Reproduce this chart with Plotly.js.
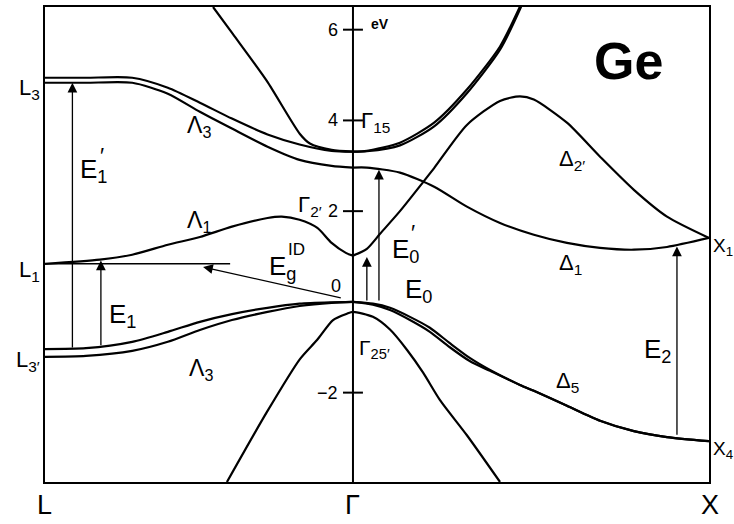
<!DOCTYPE html>
<html>
<head>
<meta charset="utf-8">
<script src="https://cdn.plot.ly/plotly-3.0.1.min.js"></script>
<style>
body { margin: 0; background: #fff; }
#plot { width: 734px; height: 524px; }
</style>
</head>
<body>
<div id="plot"></div>
<script>
// Ge band structure. k: L = -0.865, Gamma = 0, X = 1 ; energies in eV

// L -> Gamma (Lambda direction)
var kLambda = [-0.865, -0.75, -0.62, -0.52, -0.43, -0.34, -0.24, -0.15, -0.06, 0];
var lambda3cA = [4.94, 4.94, 4.94, 4.72, 4.39, 4.04, 3.69, 3.47, 3.33, 3.31];
var lambda3cB = [4.83, 4.83, 4.83, 4.59, 4.19, 3.82, 3.42, 3.13, 3.00, 2.96];
var lambda3vA = [-1.04, -1.02, -0.88, -0.66, -0.44, -0.27, -0.13, -0.04, -0.01, 0];
var lambda3vB = [-1.21, -1.19, -1.08, -0.88, -0.62, -0.40, -0.22, -0.09, -0.02, 0];

var kLambda1 = [-0.865, -0.711, -0.62, -0.52, -0.43, -0.34, -0.24, -0.20, -0.15, -0.10, -0.06, -0.02, 0];
var lambda1c = [0.84, 0.93, 1.04, 1.26, 1.43, 1.66, 1.85, 1.88, 1.81, 1.63, 1.30, 1.08, 1.02];

var kLambdaUp = [-0.393, -0.337, -0.242, -0.149, -0.121, -0.06, 0];
var lambda1Up = [6.50, 5.90, 4.87, 3.70, 3.49, 3.35, 3.31];

// Gamma -> X (Delta direction)
var kDelta = [0, 0.039, 0.132, 0.228, 0.320, 0.413, 0.508, 0.601, 0.694, 0.789, 0.882, 1.0];
var delta1 = [2.96, 2.96, 2.85, 2.54, 2.10, 1.74, 1.48, 1.30, 1.19, 1.15, 1.21, 1.41];

var kDelta2 = [0, 0.039, 0.076, 0.132, 0.197, 0.228, 0.320, 0.413, 0.469, 0.508, 0.601, 0.694, 0.789, 0.882, 1.0];
var delta2p = [1.02, 1.17, 1.50, 2.00, 2.64, 2.95, 3.90, 4.43, 4.53, 4.46, 3.95, 3.20, 2.47, 1.88, 1.41];

var kDelta5c = [0, 0.039, 0.132, 0.228, 0.320, 0.413, 0.469, 0.49];
var delta5cA = [3.31, 3.33, 3.51, 3.95, 4.68, 5.63, 6.51, 6.90];
var delta5cB = [3.31, 3.32, 3.45, 3.87, 4.60, 5.56, 6.45, 6.85];

var kDelta5v = [0, 0.056, 0.104, 0.160, 0.216, 0.272, 0.329, 0.385, 0.469, 0.508, 0.601, 0.694, 0.789, 0.882, 1.0];
var delta5vA = [0, -0.04, -0.13, -0.33, -0.57, -0.91, -1.24, -1.50, -1.83, -1.96, -2.29, -2.62, -2.85, -2.98, -3.07];
var delta5vB = [0, -0.06, -0.18, -0.40, -0.66, -1.00, -1.31, -1.52, -1.83, -1.96, -2.29, -2.62, -2.85, -2.98, -3.07];

// split-off band, both sides of Gamma
var kSO = [-0.354, -0.242, -0.149, -0.101, -0.056, -0.017, 0, 0.056, 0.104, 0.152, 0.197, 0.244, 0.320, 0.413];
var splitOff = [-3.97, -2.43, -1.26, -0.84, -0.40, -0.26, -0.22, -0.33, -0.61, -1.06, -1.56, -2.16, -2.94, -3.97];

// optical transitions E1', E1, E0, E0', E2
var transK = [-0.788, -0.708, 0.039, 0.073, 0.910];
var transFrom = [-1.04, -0.99, 0.0, 0.0, -2.96];
var transTo = [4.83, 0.91, 0.99, 2.91, 1.22];

// indirect gap arrow (from Gamma to L1)
var gapTail = [-0.03, 0.08];
var gapTip = [-0.421, 0.77];

var tickE = [-2, 2, 4, 6];
var tickText = ["\u22122", "2", "4", "6"];

var xRange = [-0.865, 1.0];
var yRange = [-3.97, 6.5];

function band(k, e) {
  return {
    x: k, y: e, mode: "lines", hoverinfo: "skip", showlegend: false,
    line: { color: "#000", width: 2.2, shape: "spline", smoothing: 0.7 }
  };
}

var data = [
  band(kLambda, lambda3cA), band(kLambda, lambda3cB),
  band(kLambda, lambda3vA), band(kLambda, lambda3vB),
  band(kLambda1, lambda1c), band(kLambdaUp, lambda1Up),
  band(kDelta, delta1), band(kDelta2, delta2p),
  band(kDelta5c, delta5cA), band(kDelta5c, delta5cB),
  band(kDelta5v, delta5vA), band(kDelta5v, delta5vB),
  band(kSO, splitOff)
];

var fontName = "Liberation Sans, Arial, sans-serif";

function lab(text, x, y, size, xanchor) {
  return {
    text: text, x: x, y: y, xref: "x", yref: "y", showarrow: false,
    xanchor: xanchor || "left", yanchor: "middle",
    font: { family: fontName, size: size, color: "#000" }
  };
}

// labels outside the frame: given in data units, placed on paper
function labOut(text, x, y, size, xanchor) {
  var a = lab(text, (x - xRange[0]) / (xRange[1] - xRange[0]),
    (y - yRange[0]) / (yRange[1] - yRange[0]), size, xanchor);
  a.xref = "paper";
  a.yref = "paper";
  return a;
}

var annotations = [
  labOut("L<sub>3</sub>", -0.873, 4.70, 22, "right"),
  labOut("L<sub>1</sub>", -0.873, 0.68, 22, "right"),
  labOut("L<sub>3\u2032</sub>", -0.873, -1.30, 22, "right"),
  labOut("X<sub>1</sub>", 1.005, 1.21, 19, "left"),
  labOut("X<sub>4</sub>", 1.005, -3.27, 19, "left"),
  labOut("L", -0.866, -4.47, 27, "center"),
  labOut("\u0393", 0, -4.47, 27, "center"),
  labOut("X", 1.004, -4.47, 27, "center"),
  lab("<b>Ge</b>", 0.775, 5.30, 52, "center"),
  lab("\u039b<sub>3</sub>", -0.472, 3.86, 23),
  lab("\u039b<sub>1</sub>", -0.472, 1.77, 23),
  lab("\u039b<sub>3</sub>", -0.466, -1.50, 23),
  lab("\u0394<sub>2\u2032</sub>", 0.573, 3.13, 22),
  lab("\u0394<sub>1</sub>", 0.573, 0.84, 22),
  lab("\u0394<sub>5</sub>", 0.565, -1.77, 22),
  lab("\u0393<sub>15</sub>", 0.017, 3.97, 22),
  lab("\u0393<sub>25\u2032</sub>", 0.011, -1.04, 21),
  lab("\u0393<sub>2\u2032</sub>", -0.081, 2.12, 22, "right"),
  lab("E<sub>1</sub>", -0.772, 2.89, 26),
  lab("\u2032", -0.715, 3.22, 22),
  lab("E<sub>1</sub>", -0.691, -0.29, 26),
  lab("E<sub>g</sub>", -0.242, 0.75, 26),
  lab("ID", -0.187, 1.15, 17),
  lab("E<sub>0</sub>", 0.104, 1.13, 26),
  lab("\u2032", 0.156, 1.52, 22),
  lab("E<sub>0</sub>", 0.140, 0.26, 26),
  lab("E<sub>2</sub>", 0.812, -1.08, 26),
  lab("0", -0.028, 0.35, 18, "right"),
  lab("<b>eV</b>", 0.045, 6.12, 14)
];

tickE.forEach(function (e, i) {
  annotations.push(lab(tickText[i], -0.036, e, 18, "right"));
});

transK.forEach(function (k, i) {
  annotations.push({
    x: k, y: transTo[i], ax: k, ay: transFrom[i],
    xref: "x", yref: "y", axref: "x", ayref: "y",
    text: "", showarrow: true, arrowhead: 2, arrowsize: 1.5,
    arrowwidth: 1.3, arrowcolor: "#000", standoff: 0
  });
});

annotations.push({
  x: gapTip[0], y: gapTip[1], ax: gapTail[0], ay: gapTail[1],
  xref: "x", yref: "y", axref: "x", ayref: "y",
  text: "", showarrow: true, arrowhead: 2, arrowsize: 1.5,
  arrowwidth: 1.3, arrowcolor: "#000", standoff: 0
});

var shapes = [
  // Gamma axis
  { type: "line", xref: "x", yref: "paper", x0: 0, x1: 0, y0: 0, y1: 1,
    line: { color: "#000", width: 2 } },
  // L1 level marker
  { type: "line", xref: "x", yref: "y", x0: -0.865, x1: -0.345,
    y0: lambda1c[0], y1: lambda1c[0], line: { color: "#000", width: 1.5 } }
];

tickE.forEach(function (e) {
  shapes.push({ type: "line", xref: "x", yref: "y", x0: -0.028, x1: 0.028,
    y0: e, y1: e, line: { color: "#000", width: 2 } });
});

var layout = {
  width: 734,
  height: 524,
  margin: { l: 45, r: 25, t: 7, b: 42 },
  paper_bgcolor: "#fff",
  plot_bgcolor: "#fff",
  xaxis: {
    range: xRange, showgrid: false, zeroline: false,
    showticklabels: false, ticks: "", showline: true, mirror: true,
    linecolor: "#000", linewidth: 2, fixedrange: true
  },
  yaxis: {
    range: yRange, showgrid: false, zeroline: false,
    showticklabels: false, ticks: "", showline: true, mirror: true,
    linecolor: "#000", linewidth: 2, fixedrange: true
  },
  shapes: shapes,
  annotations: annotations
};

Plotly.newPlot("plot", data, layout, { displayModeBar: false, staticPlot: true });
</script>
</body>
</html>
